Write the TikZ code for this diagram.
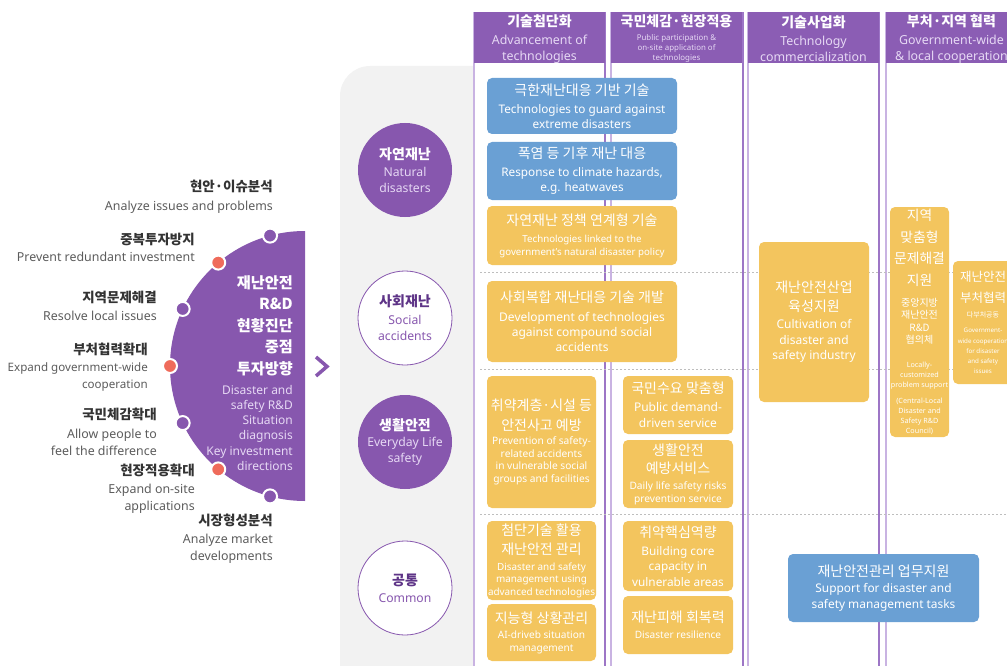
\documentclass[tikz,border=0pt]{standalone}
\usepackage{fontspec}
\setmainfont{Noto Sans}
\newfontfamily\kr{Noto Sans CJK KR}
\usetikzlibrary{calc}
\definecolor{pur}{HTML}{8757AE}
\definecolor{dpur}{HTML}{5E3487}
\definecolor{hdr}{HTML}{8B5DB4}
\definecolor{lav}{HTML}{E6D8F4}
\definecolor{yel}{HTML}{F3C55E}
\definecolor{blu}{HTML}{6AA0D4}
\definecolor{org}{HTML}{EF6B5B}
\definecolor{pan}{HTML}{F2F2F2}
\definecolor{lline}{HTML}{C9B3E2}
\definecolor{dline}{HTML}{9D76C6}
\definecolor{dashc}{HTML}{BEBEBE}
\definecolor{ktxt}{HTML}{333333}
\definecolor{etxt}{HTML}{5C5C5C}
\newcommand{\fs}[2]{\fontsize{#1}{#2}\selectfont}
\newcommand{\K}[1]{{\kr #1}}
\newcommand{\KB}[1]{{\kr\bfseries #1}}
\begin{document}
\begin{tikzpicture}[x=1pt,y=-1pt,
  hdrbox/.style={fill=hdr, draw=none, minimum width=131pt, minimum height=51pt, inner sep=0pt},
  hdrtxt/.style={inner sep=0pt, align=center, text=lav},
  tbox/.style={rounded corners=5pt, draw=none, inner sep=0pt, align=center, text=white},
  ybox/.style={tbox, fill=yel},
  bbox/.style={tbox, fill=blu},
  fcirc/.style={circle, fill=pur, minimum size=94pt, inner sep=0pt, align=center, text=lav},
  ocirc/.style={circle, fill=white, draw=pur, line width=0.8pt, minimum size=94pt, inner sep=0pt, align=center, text=pur},
  lbl/.style={align=right, anchor=east, inner sep=0pt, text=etxt, font=\fs{12.4}{17}},
  pdot/.style={circle, fill=pur, draw=white, line width=2pt, minimum size=14pt, inner sep=0pt},
  odot/.style={pdot, fill=org},
  vlight/.style={draw=lline, line width=1.5pt},
  vdark/.style={draw=dline, line width=1.3pt},
  grid/.style={draw=dashc, line width=1pt, dash pattern=on 2pt off 2pt}
]
\useasboundingbox (0,0) rectangle (1007,666);
\begin{scope}
\clip (0,0) rectangle (1007,666);

% grey panel
\fill[pan] (340,680) [rounded corners=30pt] -- (340,66) [sharp corners] -- (474,66) -- (474,680) -- cycle;

% column lines
\draw[vlight] (474,12) -- (474,666);
\draw[vdark] (605,12) -- (605,666);
\draw[vlight] (611,12) -- (611,666);
\draw[vdark] (743,12) -- (743,666);
\draw[vlight] (748,12) -- (748,666);
\draw[vdark] (879,12) -- (879,666);
\draw[vlight] (886,12) -- (886,666);

% dotted separators
\draw[grid] (480,272) -- (1007,272);
\draw[grid] (480,369) -- (1007,369);
\draw[grid] (480,514) -- (1007,514);

% headers
\node[hdrbox] (h1) at (539.5,37.5) {};
\node[hdrbox] (h2) at (676.5,37.5) {};
\node[hdrbox] (h3) at (813.5,37.5) {};
\node[hdrbox] (h4) at (951.5,37.5) {};
\node[hdrtxt, font=\fs{12.4}{15.5}] (h1t) at (539.5,39) {\KB{\color{white}\fs{14}{16}기술첨단화}\\[2.5pt]Advancement of\\technologies};
\node[hdrtxt, font=\fs{7.9}{10}] (h2t) at (676.5,39) {\KB{\color{white}\fs{14}{16}국민체감·현장적용}\\[4pt]Public participation \&\\on-site application of\\technologies};
\node[hdrtxt, font=\fs{12.4}{16}] (h3t) at (813.5,39) {\KB{\color{white}\fs{14}{16}기술사업화}\\[2pt]Technology\\commercialization};
\node[hdrtxt, font=\fs{12.4}{16}] (h4t) at (951.5,39) {\KB{\color{white}\fs{14}{16}부처·지역 협력}\\[2pt]Government-wide\\\& local cooperation};

% boxes column 1-2
\node[bbox, minimum width=190pt, minimum height=56pt, font=\fs{11.8}{15}] (b1) at (582,106) {\K{\fs{14}{15}극한재난대응 기반 기술}\\[3pt]Technologies to guard against\\extreme disasters};
\node[bbox, minimum width=190pt, minimum height=58pt, font=\fs{11.8}{15}] (b2) at (582,171) {\K{\fs{14}{15}폭염 등 기후 재난 대응}\\[3pt]Response to climate hazards,\\e.g. heatwaves};
\node[ybox, minimum width=190pt, minimum height=59pt, font=\fs{9.7}{13}] (b3) at (582,235.5) {\K{\fs{14}{15}자연재난 정책 연계형 기술}\\[4pt]Technologies linked to the\\government’s natural disaster policy};
\node[ybox, minimum width=190pt, minimum height=81pt, font=\fs{12}{15}] (b4) at (582,321.5) {\K{\fs{14}{15}사회복합 재난대응 기술 개발}\\[4pt]Development of technologies\\against compound social\\accidents};
\node[ybox, minimum width=109pt, minimum height=132pt, font=\fs{10.2}{12.7}] (b5) at (541.5,442) {\K{\fs{14}{15}취약계층·시설 등}\\[7.3pt]\K{\fs{14}{15}안전사고 예방}\\[1.3pt]Prevention of safety-\\related accidents\\in vulnerable social\\groups and facilities};
\node[ybox, minimum width=110pt, minimum height=58pt, font=\fs{12}{16}] (b6) at (678,405) {\K{\fs{14}{15}국민수요 맞춤형}\\[2pt]Public demand-\\driven service};
\node[ybox, minimum width=110pt, minimum height=68pt, font=\fs{10.2}{13}] (b7) at (678,474) {\K{\fs{14}{15}생활안전}\\[5pt]\K{\fs{14}{15}예방서비스}\\[3pt]Daily life safety risks\\prevention service};
\node[ybox, minimum width=109pt, minimum height=79pt, font=\fs{9.9}{12.5}] (b8) at (541.5,560.5) {\K{\fs{14}{15}첨단기술 활용}\\[5.5pt]\K{\fs{14}{15}재난안전 관리}\\[3.5pt]Disaster and safety\\management using\\advanced technologies};
\node[ybox, minimum width=109pt, minimum height=57pt, font=\fs{10.1}{13}] (b9) at (541.5,632.5) {\K{\fs{14}{15}지능형 상황관리}\\[2pt]AI-driveb situation\\management};
\node[ybox, minimum width=110pt, minimum height=70pt, font=\fs{11.8}{15.5}] (b10) at (678,556) {\K{\fs{14}{15}취약핵심역량}\\[2.5pt]Building core\\capacity in\\vulnerable areas};
\node[ybox, minimum width=110pt, minimum height=58pt, font=\fs{10.1}{16}] (b11) at (678,625) {\K{\fs{14}{15}재난피해 회복력}\\Disaster resilience};

% column 3-4 boxes
\node[ybox, minimum width=110pt, minimum height=160pt, font=\fs{12}{15.5}] (b12) at (814,322) {\K{\fs{14}{15}재난안전산업}\\[3.5pt]\K{\fs{14}{15}육성지원}\\[1.5pt]Cultivation of\\disaster and\\safety industry};
\node[ybox, minimum width=59pt, minimum height=230pt, font=\fs{7.2}{10}] (b13) at (919.5,322) {\K{\fs{13.8}{15}지역}\\[8pt]\K{\fs{13.8}{15}맞춤형}\\[8pt]\K{\fs{13.8}{15}문제해결}\\[8pt]\K{\fs{13.8}{15}지원}\\[11pt]\K{\fs{10}{12}중앙지방}\\[2.3pt]\K{\fs{10}{12}재난안전}\\[2.3pt]\K{\fs{10}{12}R\&D}\\[2.3pt]\K{\fs{10}{12}협의체}\\[14pt]Locally-\\customized\\problem support\\[6pt](Central-Local\\Disaster and\\Safety R\&D\\Council)};
\node[ybox, minimum width=60pt, minimum height=123pt, font=\fs{6.2}{10.2}] (b14) at (983,322.5) {\K{\fs{12.5}{14}재난안전}\\[8.8pt]\K{\fs{12.5}{14}부처협력}\\[4.8pt]\K{\fs{7}{10}다부처공동}\\[4.8pt]Government-\\wide cooperation\\for disaster\\and safety\\issues};
\node[bbox, minimum width=191pt, minimum height=68pt, font=\fs{11.9}{16}] (b15) at (883.5,588) {\K{\fs{14}{15}재난안전관리 업무지원}\\Support for disaster and\\safety management tasks};

% category circles
\node[fcirc, font=\fs{12.2}{16}] (c1) at (405,170) {\KB{\color{white}\fs{14}{15}자연재난}\\[1pt]Natural\\disasters};
\node[ocirc, font=\fs{12.2}{16}] (c2) at (405,318) {\KB{\color{dpur}\fs{14}{15}사회재난}\\[2pt]Social\\accidents};
\node[fcirc, font=\fs{12.2}{16}] (c3) at (405,442) {\KB{\color{white}\fs{14}{15}생활안전}\\Everyday Life\\safety};
\node[ocirc, font=\fs{12.2}{16}] (c4) at (405,588) {\KB{\color{dpur}\fs{14}{15}공통}\\[1pt]Common};

% half disc
\coordinate (hc) at (305,366);
\fill[pur] (305,231) arc[start angle=90, end angle=270, radius=135pt] -- cycle;
\node[align=right, anchor=east, inner sep=0pt, text=lav, font=\fs{12}{15.2}] (ht) at (293,373) {\KB{\color{white}\fs{15.2}{16}재난안전}\\[6.3pt]\KB{\color{white}\fs{15.2}{16}R\&D}\\[6.3pt]\KB{\color{white}\fs{15.2}{16}현황진단}\\[6.3pt]\KB{\color{white}\fs{15.2}{16}중점}\\[6.3pt]\KB{\color{white}\fs{15.2}{16}투자방향}\\[4.8pt]Disaster and\\safety R\&D\\Situation\\diagnosis\\Key investment\\directions};

\node[pdot] (d1) at ($(hc)+(105:135pt)$) {};
\node[odot] (d2) at ($(hc)+(130:135pt)$) {};
\node[pdot] (d3) at ($(hc)+(155:135pt)$) {};
\node[odot] (d4) at ($(hc)+(180:135pt)$) {};
\node[pdot] (d5) at ($(hc)+(205:135pt)$) {};
\node[odot] (d6) at ($(hc)+(230:135pt)$) {};
\node[pdot] (d7) at ($(hc)+(255:135pt)$) {};

% chevron
\draw[pur, line width=3.5pt] (316,357) -- (327,366.5) -- (316,376);

% left labels
\node[lbl] (l1) at (273,197) {\KB{\color{ktxt}\fs{13.5}{15}현안·이슈분석}\\[2pt]Analyze issues and problems};
\node[lbl] (l2) at (195,247.5) {\KB{\color{ktxt}\fs{13.5}{15}중복투자방지}\\[0pt]Prevent redundant investment};
\node[lbl] (l3) at (157,306) {\KB{\color{ktxt}\fs{13.5}{15}지역문제해결}\\[1pt]Resolve local issues};
\node[lbl, font=\fs{11.6}{17}] (l4) at (148,367) {\KB{\color{ktxt}\fs{13.5}{15}부처협력확대}\\[0pt]Expand government-wide\\cooperation};
\node[lbl] (l5) at (157,432) {\KB{\color{ktxt}\fs{13.5}{15}국민체감확대}\\[2pt]Allow people to\\feel the difference};
\node[lbl] (l6) at (195,488.5) {\KB{\color{ktxt}\fs{13.5}{15}현장적용확대}\\[1pt]Expand on-site\\applications};
\node[lbl] (l7) at (273,538.5) {\KB{\color{ktxt}\fs{13.5}{15}시장형성분석}\\[1pt]Analyze market\\developments};
\end{scope}
\end{tikzpicture}
\end{document}
